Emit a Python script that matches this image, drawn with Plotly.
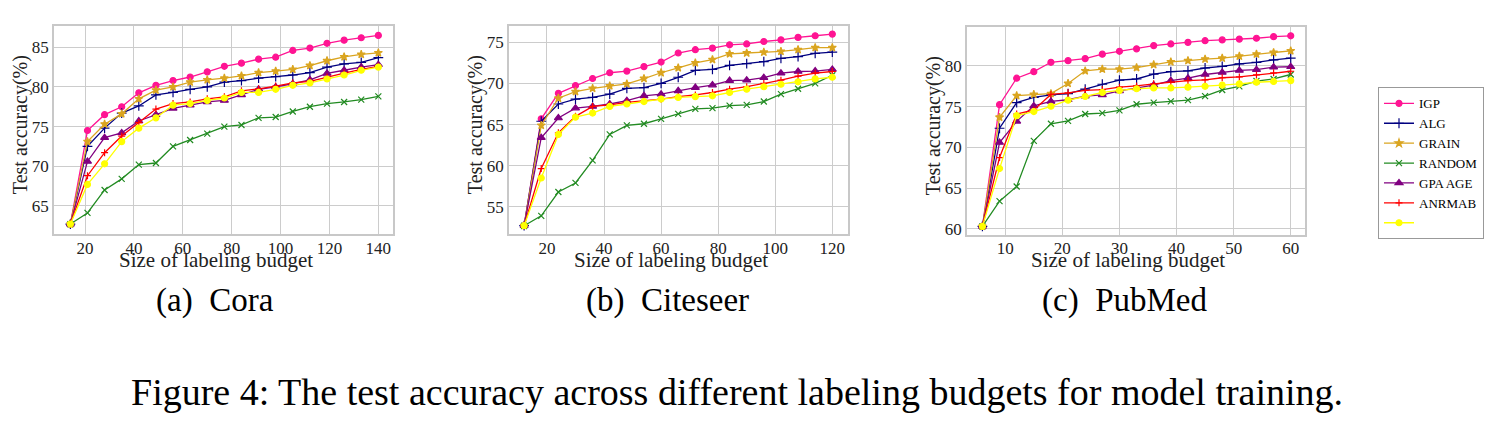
import plotly.graph_objects as go
from plotly.subplots import make_subplots

# budgets per dataset
cora_x = [14, 21, 28, 35, 42, 49, 56, 63, 70, 77, 84, 91, 98, 105, 112, 119, 126, 133, 140]
cite_x = [12, 18, 24, 30, 36, 42, 48, 54, 60, 66, 72, 78, 84, 90, 96, 102, 108, 114, 120]
pub_x = [6, 9, 12, 15, 18, 21, 24, 27, 30, 33, 36, 39, 42, 45, 48, 51, 54, 57, 60]

# Cora
cora_igp = [62.7, 74.5, 76.5, 77.5, 79.25, 80.2, 80.8, 81.25, 81.9, 82.6, 83.0, 83.5, 83.75, 84.6, 84.9, 85.5, 85.9, 86.2, 86.5]
cora_alg = [62.7, 72.5, 74.8, 76.7, 77.6, 79.0, 79.3, 79.7, 80.0, 80.6, 80.8, 81.1, 81.3, 81.5, 81.8, 82.5, 82.9, 83.1, 83.7]
cora_grain = [62.7, 73.1, 75.3, 76.6, 78.5, 79.6, 80.0, 80.6, 80.9, 81.1, 81.4, 81.8, 82.0, 82.2, 82.7, 83.3, 83.8, 84.1, 84.3]
cora_random = [62.7, 64.1, 67.0, 68.4, 70.2, 70.4, 72.5, 73.3, 74.1, 75.0, 75.2, 76.1, 76.2, 76.9, 77.5, 77.9, 78.1, 78.4, 78.8]
cora_gpa = [62.7, 70.6, 73.6, 74.2, 75.7, 76.5, 77.3, 77.7, 78.1, 78.3, 79.0, 79.7, 80.0, 80.4, 80.9, 81.7, 82.1, 82.5, 82.8]
cora_anrmab = [62.7, 68.8, 71.7, 73.8, 75.5, 77.2, 77.9, 78.1, 78.5, 78.75, 79.5, 79.75, 80.1, 80.5, 80.7, 81.25, 81.75, 82.2, 82.6]
cora_yellow = [62.7, 67.7, 70.3, 73.1, 74.8, 76.1, 77.7, 77.9, 78.3, 78.6, 79.3, 79.3, 79.7, 80.2, 80.5, 81.0, 81.5, 82.1, 82.5]

# Citeseer
cite_igp = [52.7, 65.7, 68.8, 69.75, 70.6, 71.3, 71.5, 72.05, 72.6, 73.7, 74.1, 74.3, 74.7, 74.8, 75.1, 75.3, 75.6, 75.8, 76.0]
cite_alg = [52.7, 65.4, 67.5, 68.1, 68.3, 68.7, 69.4, 69.5, 70.0, 70.75, 71.6, 71.7, 72.2, 72.4, 72.65, 73.05, 73.25, 73.65, 73.8]
cite_grain = [52.7, 64.9, 68.2, 69.0, 69.4, 69.7, 69.95, 70.6, 71.3, 71.9, 72.5, 72.9, 73.6, 73.7, 73.8, 73.9, 74.1, 74.35, 74.35]
cite_random = [52.7, 53.9, 56.8, 57.9, 60.65, 63.8, 64.9, 65.1, 65.7, 66.3, 66.9, 67.0, 67.3, 67.4, 67.8, 68.7, 69.35, 70.0, 71.0]
cite_gpa = [52.7, 63.4, 65.8, 67.0, 67.2, 67.5, 67.9, 68.5, 68.7, 69.1, 69.5, 69.8, 70.35, 70.4, 70.7, 71.25, 71.45, 71.5, 71.7]
cite_anrmab = [52.7, 59.65, 64.0, 66.0, 67.2, 67.4, 67.7, 67.9, 68.1, 68.4, 68.6, 68.9, 69.3, 69.6, 70.0, 70.4, 70.9, 71.25, 71.45]
cite_yellow = [52.7, 58.5, 63.8, 65.9, 66.4, 67.2, 67.5, 67.8, 68.1, 68.3, 68.4, 68.5, 68.9, 69.3, 69.6, 69.9, 70.2, 70.55, 70.75]

# PubMed
pub_igp = [60.3, 75.25, 78.5, 79.3, 80.45, 80.65, 80.9, 81.45, 81.8, 82.1, 82.5, 82.7, 82.9, 83.1, 83.2, 83.3, 83.4, 83.6, 83.7]
pub_alg = [60.3, 72.35, 75.5, 76.15, 76.45, 76.6, 77.15, 77.75, 78.25, 78.4, 79.0, 79.3, 79.4, 79.75, 79.95, 80.25, 80.45, 80.75, 80.95]
pub_grain = [60.3, 73.7, 76.35, 76.5, 76.6, 77.85, 79.4, 79.6, 79.6, 79.8, 80.15, 80.5, 80.65, 80.85, 80.95, 81.2, 81.45, 81.65, 81.85]
pub_random = [60.3, 63.4, 65.2, 70.8, 72.9, 73.25, 74.1, 74.2, 74.55, 75.3, 75.5, 75.65, 75.8, 76.3, 77.05, 77.5, 78.15, 78.4, 78.95]
pub_gpa = [60.3, 70.6, 73.2, 75.1, 75.65, 75.85, 76.3, 76.45, 76.95, 77.3, 77.65, 78.2, 78.5, 78.95, 79.2, 79.45, 79.55, 79.85, 79.9]
pub_anrmab = [60.3, 68.75, 74.1, 74.6, 76.5, 76.7, 77.0, 77.1, 77.4, 77.55, 77.8, 78.0, 78.2, 78.3, 78.55, 78.65, 78.9, 79.15, 79.35]
pub_yellow = [60.3, 67.4, 73.9, 74.4, 75.05, 75.8, 76.25, 76.75, 77.0, 77.2, 77.3, 77.3, 77.4, 77.5, 77.65, 77.8, 78.0, 78.1, 78.2]

methods = ["IGP", "ALG", "GRAIN", "RANDOM", "GPA AGE", "ANRMAB", " "]
colors = ["#FF1493", "#000080", "#DAA520", "#228B22", "#800080", "#FF0000", "#FFFF00"]
symbols = ["circle", "cross-thin-open", "star", "x-thin-open", "triangle-up", "cross-thin-open", "circle"]
msizes = [6, 7, 6, 6, 7, 5, 6]

datasets = [
    (cora_x, [cora_igp, cora_alg, cora_grain, cora_random, cora_gpa, cora_anrmab, cora_yellow]),
    (cite_x, [cite_igp, cite_alg, cite_grain, cite_random, cite_gpa, cite_anrmab, cite_yellow]),
    (pub_x, [pub_igp, pub_alg, pub_grain, pub_random, pub_gpa, pub_anrmab, pub_yellow]),
]

# the page body adds an 8px margin, so the figure is a bit smaller than the window
OFF = 8
W, H = 1503 - 2 * OFF, 432 - 2 * OFF


def px(x):
    return (x - OFF) / W


def py(y):
    return 1 - (y - OFF) / H


fig = make_subplots(rows=1, cols=3)

for c, (xs, series) in enumerate(datasets):
    for i, ys in enumerate(series):
        fig.add_trace(go.Scatter(
            x=xs, y=ys, name=methods[i], mode="lines+markers",
            line=dict(color=colors[i], width=1.3),
            marker=dict(symbol=symbols[i], size=msizes[i], color=colors[i],
                        line=dict(color=colors[i], width=1.2)),
            showlegend=(c == 0), legendgroup=methods[i],
        ), row=1, col=c + 1)

# plot areas in window pixels (left, right, top, bottom)
boxes = [(54, 393, 26, 236), (509, 848, 26, 236), (967, 1305, 27, 237)]
xranges = [[7.3, 146], [6.7, 125.5], [3.3, 62.5]]
yranges = [[61.4, 87.7], [51.65, 77.0], [59.2, 84.8]]
xticks = [[20, 40, 60, 80, 100, 120, 140], [20, 40, 60, 80, 100, 120], [10, 20, 30, 40, 50, 60]]
yticks = [[65, 70, 75, 80, 85], [55, 60, 65, 70, 75], [60, 65, 70, 75, 80]]

serif = "Liberation Serif, Times New Roman, serif"
for c in range(3):
    l, r, t, b = boxes[c]
    fig.update_xaxes(domain=[px(l), px(r)], range=xranges[c], tickvals=xticks[c],
                     showgrid=True, gridcolor="#cccccc", gridwidth=1,
                     showline=True, linecolor="#c8c8c8", linewidth=1.5, mirror=True,
                     ticks="", zeroline=False, ticklabelstandoff=-3,
                     tickfont=dict(family=serif, size=17, color="#222"),
                     row=1, col=c + 1)
    fig.update_yaxes(domain=[py(b), py(t)], range=yranges[c], tickvals=yticks[c],
                     showgrid=True, gridcolor="#cccccc", gridwidth=1,
                     showline=True, linecolor="#c8c8c8", linewidth=1.5, mirror=True,
                     ticks="", zeroline=False,
                     tickfont=dict(family=serif, size=17, color="#222"),
                     row=1, col=c + 1)
    # axis titles placed as in the reference (x title hugs the tick labels)
    fig.add_annotation(text="Size of labeling budget", x=px((l + r) / 2 - 8), y=py(262),
                       xref="paper", yref="paper", xanchor="center", yanchor="middle",
                       showarrow=False, font=dict(family=serif, size=21, color="#222"))
    fig.add_annotation(text="Test accuracy(%)", x=px(l - 34), y=py((t + b) / 2 - 5),
                       xref="paper", yref="paper", xanchor="center", yanchor="middle",
                       textangle=-90, showarrow=False,
                       font=dict(family=serif, size=20, color="#222"))

# sub-captions and figure caption
for label, cx in [("(a)  Cora", 215), ("(b)  Citeseer", 667), ("(c)  PubMed", 1124)]:
    fig.add_annotation(text=label, x=px(cx), y=py(303), xref="paper", yref="paper",
                       xanchor="center", yanchor="middle", showarrow=False,
                       font=dict(family=serif, size=33, color="black"))
fig.add_annotation(text="Figure 4: The test accuracy across different labeling budgets for model training.",
                   x=px(737), y=py(395), xref="paper", yref="paper",
                   xanchor="center", yanchor="middle", showarrow=False,
                   font=dict(family=serif, size=38, color="black"))

fig.update_layout(
    width=W, height=H,
    margin=dict(l=0, r=0, t=0, b=0),
    paper_bgcolor="white", plot_bgcolor="white",
    legend=dict(x=px(1378), y=py(88), xanchor="left", yanchor="top",
                bordercolor="#999", borderwidth=1, bgcolor="white",
                font=dict(family=serif, size=13, color="black"),
                tracegroupgap=0, itemwidth=30),
)

fig.write_html("out.html")
